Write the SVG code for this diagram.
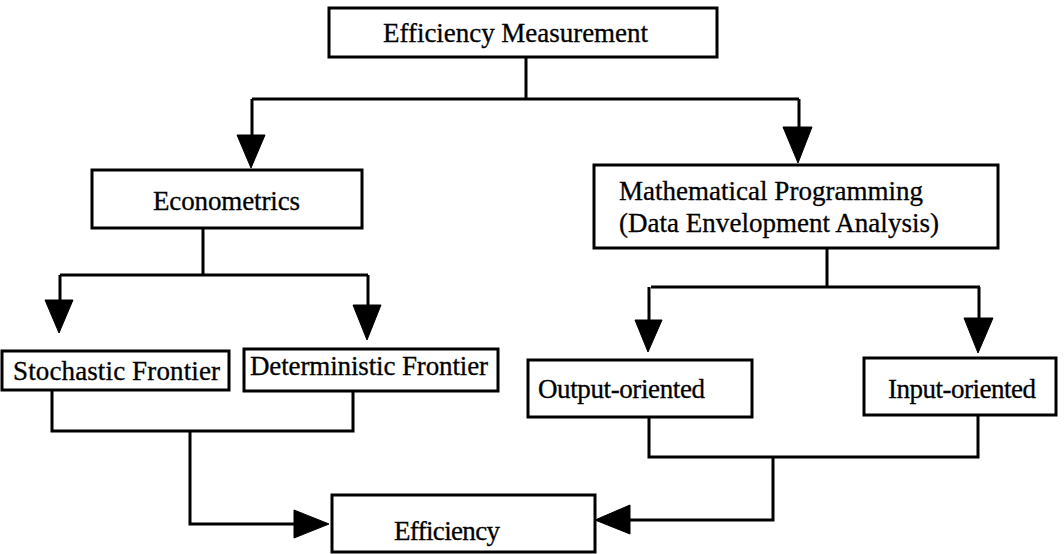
<svg xmlns="http://www.w3.org/2000/svg" width="1064" height="554" viewBox="0 0 1064 554">
<style>
.box{fill:#fff;stroke:#000;stroke-width:3}
.lbl{font-family:"Liberation Serif","Times New Roman",serif;font-size:27px;fill:#000;stroke:#000;stroke-width:0.3}
.ln{fill:none;stroke:#000;stroke-width:3}
.ah{fill:#000;stroke:#000;stroke-width:1}
</style>
<rect width="1064" height="554" fill="#fff"/>
<g id="connectors">
<path class="ln" d="M526 57 V99 M252 99 H799 M252 99 V136 M799 99 V128"/>
<polygon class="ah" points="237,135 265,135 251,168"/>
<polygon class="ah" points="783,127 812,127 798,163"/>
<path class="ln" d="M203 228 V275 M60 275 H368 M60 275 V301 M368 275 V306"/>
<polygon class="ah" points="45,300 73,300 59,333"/>
<polygon class="ah" points="353,305 381,305 367,340"/>
<path class="ln" d="M827 248 V287 M651 287 H980 M649 287 V321 M979 287 V319"/>
<polygon class="ah" points="635,320 662,320 648,352"/>
<polygon class="ah" points="964,318 993,318 978,353"/>
<path class="ln" d="M52 390 V431 H353 V391 M190 431 V524 H295"/>
<polygon class="ah" points="294,510 294,538 329,524"/>
<path class="ln" d="M649 417 V457 H978 V416 M773 457 V520 H629"/>
<polygon class="ah" points="630,505 630,534 595,520"/>
</g>
<g id="n-measure">
<rect class="box" x="329" y="8" width="388" height="49"/>
<text class="lbl" x="383" y="42" textLength="265">Efficiency Measurement</text>
</g>
<g id="n-econometrics">
<rect class="box" x="92" y="170" width="270" height="58"/>
<text class="lbl" x="153" y="210" textLength="147">Econometrics</text>
</g>
<g id="n-math">
<rect class="box" x="594" y="165" width="404" height="83"/>
<text class="lbl" x="619" y="200" textLength="304">Mathematical Programming</text>
<text class="lbl" x="619" y="232" textLength="320">(Data Envelopment Analysis)</text>
</g>
<g id="n-stochastic">
<rect class="box" x="2" y="351" width="227" height="39"/>
<text class="lbl" x="13" y="380" textLength="207">Stochastic Frontier</text>
</g>
<g id="n-deterministic">
<rect class="box" x="244" y="349" width="254" height="42"/>
<text class="lbl" x="250" y="375" textLength="238">Deterministic Frontier</text>
</g>
<g id="n-output">
<rect class="box" x="528" y="360" width="224" height="57"/>
<text class="lbl" x="538" y="398" textLength="167">Output-oriented</text>
</g>
<g id="n-input">
<rect class="box" x="864" y="358" width="192" height="57"/>
<text class="lbl" x="888" y="398" textLength="148">Input-oriented</text>
</g>
<g id="n-efficiency">
<rect class="box" x="332" y="495" width="263" height="57"/>
<text class="lbl" x="394" y="540" textLength="106">Efficiency</text>
</g>
</svg>
